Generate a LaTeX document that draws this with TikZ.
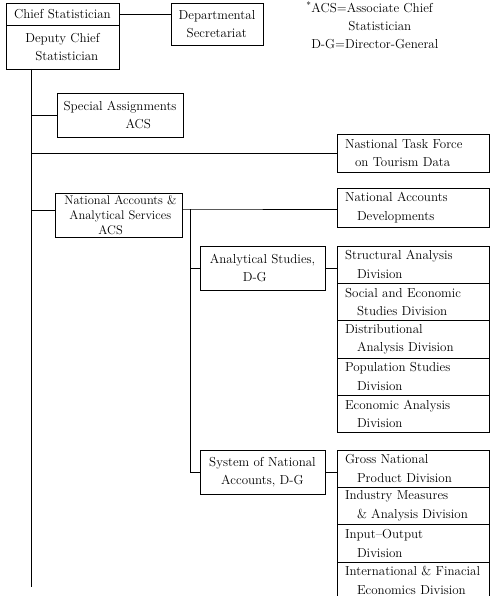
\documentclass[tikz,border=0pt]{standalone}
\usetikzlibrary{positioning}

\tikzset{
  box/.style={draw, anchor=north west, align=left, inner xsep=6pt, inner ysep=0pt, outer sep=0pt},
  cell/.style={box, text width=136pt, inner xsep=8pt, minimum height=37.3pt},
}

\begin{document}
\begin{tikzpicture}[x=1pt, y=-1pt, line width=0.5pt, font=\fontsize{13}{18.5}\selectfont]
  \useasboundingbox (0,0) rectangle (491,596);
  \clip (0,0) rectangle (491,596);
  % head of the chart
  \node[box, minimum width=113pt, minimum height=22pt] (chief) at (6,3) {Chief Statistician};
  \node[box, minimum width=113pt, minimum height=44pt] (deputy) at (6,25) {Deputy Chief\\\hspace*{10pt}Statistician};
  \node[box, minimum width=92pt, minimum height=42pt] (dept) at (171,3) {Departmental\\\hspace*{8pt}Secretariat};
  \node[align=left, anchor=west, inner sep=0pt, font=\fontsize{13}{18}\selectfont] (legend) at (306,25) {\textsuperscript{*}ACS=Associate Chief\\\hspace*{42pt}Statistician\\\hspace*{5pt}D-G=Director-General};
  % first level
  \node[box, minimum width=126pt, minimum height=44pt] (special) at (57,93) {Special Assignments\\\hspace*{62pt}ACS};
  \node[cell, minimum height=38pt] (task) at (337,134) {Nastional Task Force\\\hspace*{10pt}on Tourism Data};
  \node[box, minimum width=127pt, minimum height=44pt, inner xsep=3pt, font=\fontsize{12.5}{15}\selectfont] (natacc) at (55,193) {\hspace*{4pt}National Accounts \&\\\hspace*{9pt}Analytical Services\\\hspace*{38pt}ACS};
  \node[cell, minimum height=39pt] (nad) at (337,188) {National Accounts\\\hspace*{12pt}Developments};
  % second level
  \node[box, minimum width=125pt, minimum height=44pt] (anstud) at (200,246) {Analytical Studies,\\\hspace*{33pt}D-G};
  \node[box, minimum width=125pt, minimum height=44pt] (sna) at (200,450) {System of National\\\hspace*{12pt}Accounts, D-G};
  % divisions
  \foreach \txt [count=\i] in {{Structural Analysis\\\hspace*{12pt}Division},
      {Social and Economic\\\hspace*{12pt}Studies Division},
      {Distributional\\\hspace*{12pt}Analysis Division},
      {Population Studies\\\hspace*{12pt}Division},
      {Economic Analysis\\\hspace*{12pt}Division}}
    \node[cell] (s1-\i) at (337,{246+37.3*(\i-1)}) {\txt};
  \foreach \txt [count=\i] in {{Gross National\\\hspace*{12pt}Product Division},
      {Industry Measures\\\hspace*{12pt}\& Analysis Division},
      {Input--Output\\\hspace*{12pt}Division},
      {International \& Finacial\\\hspace*{12pt}Economics Division}}
    \node[cell] (s2-\i) at (337,{450+37.3*(\i-1)}) {\txt};
  % connectors
  \coordinate (top) at (31,69);
  \coordinate (bot) at (31,587);
  \coordinate (sub) at (190,209);
  \draw (top) -- (bot);
  \draw (chief.east) -- (chief.east -| dept.west);
  \draw (special.west -| top) -- (special.west);
  \draw (task.west -| top) -- (task.west);
  \draw ([yshift=5pt]natacc.west -| top) -- ([yshift=5pt]natacc.west);
  \draw ([yshift=6pt]natacc.east) -- (sub) -- (sub -| nad.west);
  \draw (sub) |- (sna.west);
  \draw (anstud.west -| sub) -- (anstud.west);
  \draw (anstud.east) -- (anstud.east -| s1-1.west);
  \draw (sna.east) -- (sna.east -| s2-1.west);
\end{tikzpicture}
\end{document}
